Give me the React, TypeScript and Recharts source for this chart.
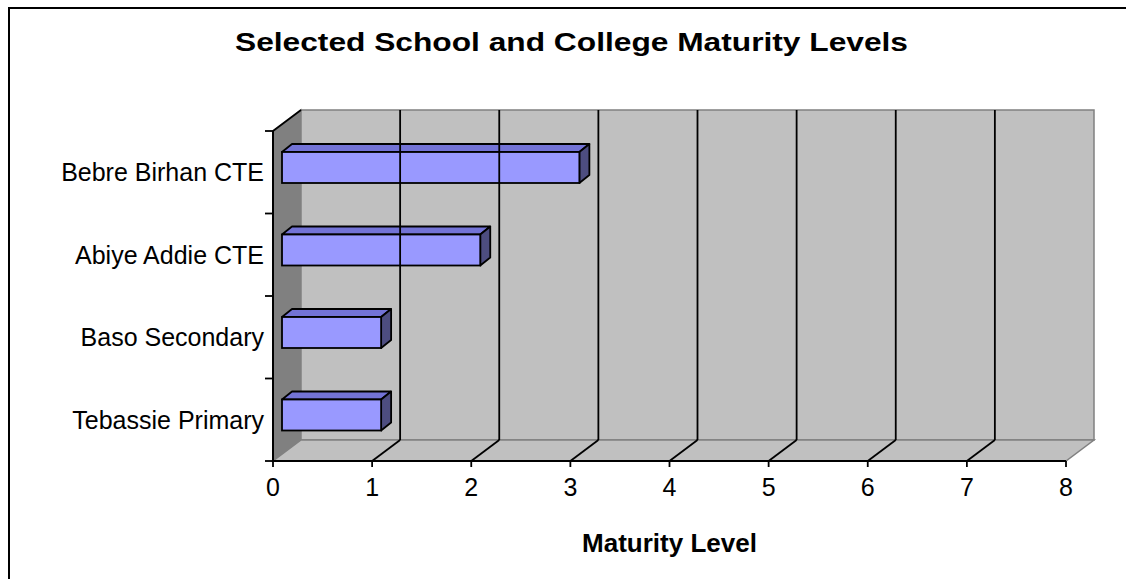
import React from 'react';
import { BarChart, Bar, XAxis, YAxis, ReferenceArea, ReferenceLine } from 'recharts';

const categories = ['Bebre Birhan CTE', 'Abiye Addie CTE', 'Baso Secondary', 'Tebassie Primary'];
const maturityLevels = [3, 2, 1, 1];
const xTicks = [0, 1, 2, 3, 4, 5, 6, 7, 8];
const gridTicks = [1, 2, 3, 4, 5, 6, 7];
const chartTitle = 'Selected School and College Maturity Levels';
const axisTitle = 'Maturity Level';

const data = categories.map((name, i) => ({ name, value: maturityLevels[i] }));

const FONT = '"Liberation Sans", Arial, sans-serif';
// depth of the 3D box
const DX = 28;
const DY = -21;
// bar position inside the depth and bar depth
const BX = 9;
const BY = -5;
const BDX = 10;
const BDY = -8;
const Y_TICK_SIZE = 8;
const Y_TICK_MARGIN = 9;

const Walls = (p: any) => {
  const { x, y, width, height } = p;
  const L = x;
  const R = x + width;
  const T = y;
  const B = y + height;
  return (
    <g>
      <polygon
        points={`${L},${T} ${L + DX},${T + DY} ${L + DX},${B + DY} ${L},${B}`}
        fill="#808080"
        stroke="#808080"
        strokeWidth={1.5}
      />
      <rect x={L + DX} y={T + DY} width={width} height={height} fill="#C0C0C0" stroke="#808080" strokeWidth={1.5} />
      <polygon
        points={`${L},${B} ${R},${B} ${R + DX},${B + DY} ${L + DX},${B + DY}`}
        fill="#C0C0C0"
        stroke="#808080"
        strokeWidth={1.5}
      />
      <line x1={L} y1={T} x2={L + DX} y2={T + DY} stroke="#000" strokeWidth={1.8} />
    </g>
  );
};

const GridLine3D = (p: any) => {
  const { x1, y1, y2 } = p;
  const top = Math.min(y1, y2);
  const bottom = Math.max(y1, y2);
  return (
    <g>
      <line x1={x1 + DX} y1={top + DY} x2={x1 + DX} y2={bottom + DY} stroke="#000" strokeWidth={1.8} />
      <line x1={x1} y1={bottom} x2={x1 + DX} y2={bottom + DY} stroke="#000" strokeWidth={1.8} />
    </g>
  );
};

const Bar3D = (p: any) => {
  const { x, y, width, height } = p;
  if (!width || width <= 0) return null;
  const fx = x + BX;
  const fy = y + BY;
  const w = width;
  const h = height;
  return (
    <g>
      <polygon
        points={`${fx},${fy} ${fx + w},${fy} ${fx + w + BDX},${fy + BDY} ${fx + BDX},${fy + BDY}`}
        fill="#7373D6"
        stroke="#000"
        strokeWidth={1.8}
        strokeLinejoin="round"
      />
      <polygon
        points={`${fx + w},${fy} ${fx + w + BDX},${fy + BDY} ${fx + w + BDX},${fy + h + BDY} ${fx + w},${fy + h}`}
        fill="#4D4D80"
        stroke="#000"
        strokeWidth={1.8}
        strokeLinejoin="round"
      />
      <rect x={fx} y={fy} width={w} height={h} fill="#9999FF" stroke="#000" strokeWidth={1.8} />
    </g>
  );
};

const CategoryTick = (p: any) => {
  const { x, y, payload, index, visibleTicksCount, height } = p;
  const half =
    payload && typeof payload.offset === 'number' && payload.offset > 0
      ? payload.offset
      : height / (visibleTicksCount || categories.length) / 2;
  const axisX = x + Y_TICK_MARGIN;
  const last = index === (visibleTicksCount || categories.length) - 1;
  return (
    <g>
      <line x1={axisX - Y_TICK_SIZE} y1={y - half} x2={axisX} y2={y - half} stroke="#000" strokeWidth={1.8} />
      {last && <line x1={axisX - Y_TICK_SIZE} y1={y + half} x2={axisX} y2={y + half} stroke="#000" strokeWidth={1.8} />}
      <text x={x} y={y} dy="0.355em" textAnchor="end" fill="#000" fontSize={25} fontFamily={FONT}>
        {payload.value}
      </text>
    </g>
  );
};

export default function App() {
  return (
    <div style={{ position: 'fixed', left: 0, top: 0, width: 1126, height: 579, background: '#fff', fontFamily: FONT }}>
      <div style={{ position: 'absolute', left: 0, top: 0 }}>
        <BarChart
          width={1126}
          height={579}
          data={data}
          layout="vertical"
          margin={{ top: 131, right: 60, bottom: 18, left: 63 }}
          barSize={31}
        >
          <ReferenceArea x1={0} x2={8} yAxisId="cat" shape={<Walls />} ifOverflow="visible" />
          {gridTicks.map((t) => (
            <ReferenceLine key={t} x={t} yAxisId="cat" shape={<GridLine3D />} />
          ))}
          <Bar dataKey="value" yAxisId="cat" isAnimationActive={false} shape={<Bar3D />} />
          <XAxis
            type="number"
            domain={[0, 8]}
            ticks={xTicks}
            interval={0}
            height={100}
            tickSize={6}
            tickMargin={11}
            axisLine={{ stroke: '#000', strokeWidth: 2 }}
            tickLine={{ stroke: '#000', strokeWidth: 1.8 }}
            tick={{ fill: '#000', fontSize: 25, fontFamily: FONT }}
            label={{
              value: axisTitle,
              position: 'insideBottom',
              offset: 9,
              fill: '#000',
              fontSize: 26,
              fontWeight: 'bold',
              fontFamily: FONT,
            }}
          />
          <YAxis
            yAxisId="cat"
            type="category"
            dataKey="name"
            width={210}
            tickSize={0}
            tickMargin={Y_TICK_MARGIN}
            axisLine={{ stroke: '#000', strokeWidth: 2 }}
            tickLine={false}
            interval={0}
            tick={<CategoryTick />}
          />
        </BarChart>
      </div>
      <svg width={1126} height={579} style={{ position: 'absolute', left: 0, top: 0, pointerEvents: 'none' }}>
        <path d="M9,579 V8 H1126" fill="none" stroke="#000" strokeWidth={2} />
        <text
          x={571.5}
          y={51}
          textAnchor="middle"
          fontSize={26}
          fontWeight="bold"
          fontFamily={FONT}
          fill="#000"
          textLength={673}
          lengthAdjust="spacingAndGlyphs"
        >
          {chartTitle}
        </text>
      </svg>
    </div>
  );
}
